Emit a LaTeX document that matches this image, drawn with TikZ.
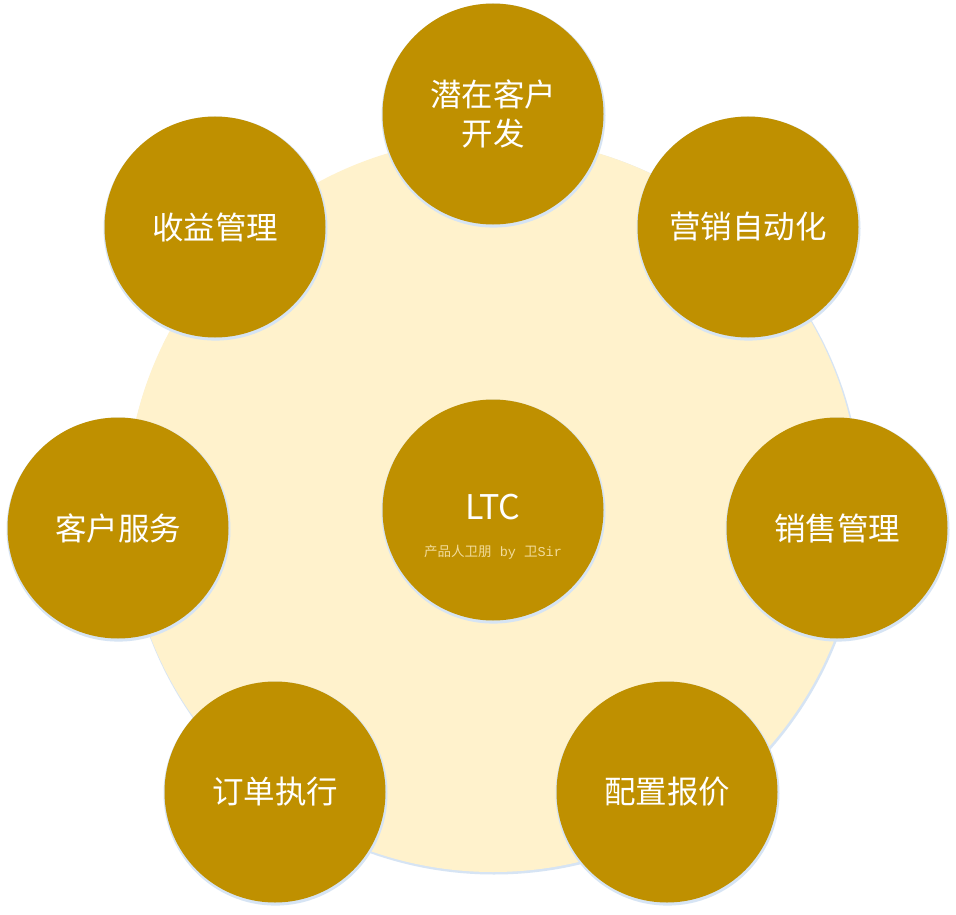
\documentclass[tikz,border=0pt]{standalone}
\usepackage{fontspec}
\setmainfont{Noto Sans CJK SC}
\newfontfamily\cjk{Noto Sans CJK SC}
\newfontfamily\wmmono{Liberation Mono}
\definecolor{gold}{HTML}{BF9000}
\definecolor{pale}{HTML}{FFF2CC}
\definecolor{glow}{HTML}{D6E4F4}
\definecolor{wm}{HTML}{F2DC9C}
\begin{document}
\begin{tikzpicture}[x=1pt,y=-1pt,
  ring/.style={circle,fill=gold,minimum size=221pt,inner sep=0pt,text=white,
    font=\cjk\fontsize{31.5}{39}\selectfont,align=center},
  glowc/.style={circle,fill=glow,minimum size=224pt,inner sep=0pt}]
\useasboundingbox[fill=white] (0,0) rectangle (956,915);
% big pale disc
\fill[glow] (494,506.5) circle (368);
\node[circle,fill=pale,minimum size=734pt,inner sep=0pt] (bg) at (493,505) {};
% glows
\foreach \x/\y in {493/114,215/227,748/227,118/528,837/528,275/792,667/792,493/510}
  \node[glowc] at (\x+0.5,\y+1.6) {};
% circles
\node[ring] (top) at (493,114) {潜在客户\\开发};
\node[ring] (rev) at (215,227) {收益管理};
\node[ring] (mkt) at (748,227) {营销自动化};
\node[ring] (svc) at (118,528) {客户服务};
\node[ring] (sal) at (837,528) {销售管理};
\node[ring] (ord) at (275,792) {订单执行};
\node[ring] (cpq) at (667,792) {配置报价};
\node[ring] (ltc) at (493,510) {};
\node[text=white,font=\fontsize{34}{40}\selectfont] (ltct) at (493,507) {LTC};
\node[text=wm,font=\fontsize{13.5}{15}\selectfont] (wmk) at (493,552) {产品人卫朋{\wmmono\ by }卫{\wmmono Sir}};
\end{tikzpicture}
\end{document}
